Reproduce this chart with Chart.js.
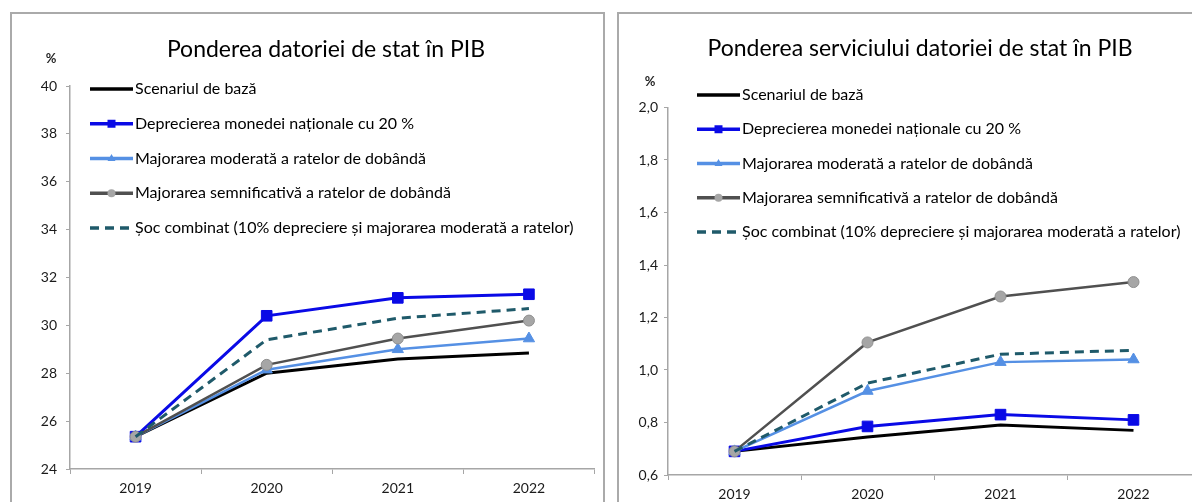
<!DOCTYPE html>
<html>
<head>
<meta charset="utf-8">
<script src="https://cdn.jsdelivr.net/npm/chart.js@4/dist/chart.umd.min.js"></script>
<style>
  html, body { margin: 0; padding: 0; background: #fff; overflow: hidden; width: 1192px; height: 502px; }
  .panel { position: absolute; top: 12px; width: 595px; height: 524px; box-sizing: border-box; border: 2px solid #aaaaaa; background: #fff; }
  #p1 { left: 10px; }
  #p2 { left: 617px; }
  canvas { display: block; }
</style>
</head>
<body>
<div class="panel" id="p1"><canvas id="debtChart" width="591" height="520"></canvas></div>
<div class="panel" id="p2"><canvas id="serviceChart" width="591" height="520"></canvas></div>
<script>
const years = ["2019", "2020", "2021", "2022"];
const seriesNames = [
  "Scenariul de bază",
  "Deprecierea monedei naționale cu 20 %",
  "Majorarea moderată a ratelor de dobândă",
  "Majorarea semnificativă a ratelor de dobândă",
  "Șoc combinat (10% depreciere și majorarea moderată a ratelor)"
];

// Ponderea datoriei de stat în PIB, %
const debtBase = [25.35, 28.0, 28.6, 28.85];
const debtDepreciation = [25.35, 30.4, 31.15, 31.3];
const debtModerate = [25.35, 28.15, 29.0, 29.45];
const debtSignificant = [25.35, 28.35, 29.45, 30.2];
const debtCombined = [25.35, 29.4, 30.3, 30.7];
const debtTicks = [24, 26, 28, 30, 32, 34, 36, 38, 40];

// Ponderea serviciului datoriei de stat în PIB, %
const serviceBase = [0.69, 0.745, 0.79, 0.77];
const serviceDepreciation = [0.69, 0.785, 0.83, 0.81];
const serviceModerate = [0.69, 0.92, 1.03, 1.04];
const serviceSignificant = [0.69, 1.105, 1.28, 1.335];
const serviceCombined = [0.69, 0.95, 1.06, 1.075];
const serviceTicks = [0.6, 0.8, 1.0, 1.2, 1.4, 1.6, 1.8, 2.0];

const FONT = "Lato, 'Noto Sans', sans-serif";

function makeDatasets(values) {
  const styles = [
    {borderColor: "#000000", borderWidth: 3, pointRadius: 0},
    {borderColor: "#0a0ae6", backgroundColor: "#0a0ae6", borderWidth: 3, pointStyle: "rect", pointRadius: 7.5},
    {borderColor: "#5590e4", backgroundColor: "#5590e4", borderWidth: 2.5, pointStyle: "triangle", pointRadius: 6.5},
    {borderColor: "#505050", backgroundColor: "#a6a6a6", pointBorderColor: "#8f8f8f", borderWidth: 2.5, pointStyle: "circle", pointRadius: 5.5},
    {borderColor: "#1f5a6a", borderWidth: 3, borderDash: [9, 6], pointRadius: 0}
  ];
  return values.map((v, i) => Object.assign({
    label: seriesNames[i], data: v, tension: 0, fill: false, order: 5 - i,
    pointHoverRadius: 0, pointBorderWidth: 1
  }, styles[i]));
}

function drawMarker(ctx, style, x, y, r) {
  ctx.beginPath();
  if (style === "rect") {
    ctx.rect(x - r, y - r, 2 * r, 2 * r);
  } else if (style === "triangle") {
    ctx.moveTo(x, y - r * 1.15);
    ctx.lineTo(x + r, y + r * 0.6);
    ctx.lineTo(x - r, y + r * 0.6);
    ctx.closePath();
  } else {
    ctx.arc(x, y, r, 0, Math.PI * 2);
  }
  ctx.fill();
}

// title, "%" label and the legend block, as in the original Excel charts
const decorPlugin = {
  id: "decor",
  afterDraw(chart, args, opts) {
    const ctx = chart.ctx;
    ctx.save();
    ctx.fillStyle = "#000";
    ctx.font = "23px " + FONT;
    ctx.textAlign = "center";
    ctx.textBaseline = "alphabetic";
    ctx.fillText(opts.title, opts.titleX, opts.titleY);
    ctx.font = "bold 13px " + FONT;
    ctx.fillStyle = "#262626";
    ctx.textBaseline = "middle";
    ctx.fillText("%", opts.pctX, opts.pctY);

    ctx.font = "16px " + FONT;
    ctx.textAlign = "left";
    chart.data.datasets.forEach((ds, i) => {
      const y = opts.legendY + i * opts.legendStep;
      const x1 = opts.legendX, x2 = opts.legendX + 43;
      ctx.strokeStyle = ds.borderColor;
      ctx.lineWidth = 3.5;
      ctx.setLineDash(ds.borderDash || []);
      ctx.beginPath();
      ctx.moveTo(x1, y);
      ctx.lineTo(x2, y);
      ctx.stroke();
      ctx.setLineDash([]);
      if (ds.pointRadius > 0) {
        ctx.fillStyle = ds.backgroundColor;
        drawMarker(ctx, ds.pointStyle, (x1 + x2) / 2, y, 4);
      }
      ctx.fillStyle = "#000";
      ctx.fillText(ds.label, x2 + 2, y);
    });
    ctx.restore();
  }
};

function makeChart(id, values, ticks, fmt, box, decor) {
  return new Chart(document.getElementById(id), {
    type: "line",
    data: {labels: years, datasets: makeDatasets(values)},
    options: {
      responsive: false, animation: false, events: [],
      layout: {padding: {left: 0, right: box.padRight, top: box.top, bottom: box.padBottom}},
      plugins: {legend: {display: false}, title: {display: false}, tooltip: {enabled: false}, decor: decor},
      scales: {
        x: {
          offset: true,
          grid: {offset: true, drawOnChartArea: false, drawTicks: true, tickLength: 5, color: "#a6a6a6"},
          border: {color: "#a6a6a6", width: 1.5},
          ticks: {color: "#1a1a1a", font: {family: FONT, size: 14}, padding: 6, maxRotation: 0},
          afterFit(scale) { scale.height = 40; }
        },
        y: {
          min: ticks[0], max: ticks[ticks.length - 1],
          afterBuildTicks(scale) { scale.ticks = ticks.map(v => ({value: v})); },
          grid: {drawOnChartArea: false, drawTicks: true, tickLength: 4, color: "#a6a6a6"},
          border: {color: "#a6a6a6", width: 1.5},
          ticks: {color: "#1a1a1a", font: {family: FONT, size: 14}, padding: box.tickPad, callback: fmt},
          afterFit(scale) { scale.width = box.left; }
        }
      }
    },
    plugins: [decorPlugin]
  });
}

makeChart("debtChart",
  [debtBase, debtDepreciation, debtModerate, debtSignificant, debtCombined],
  debtTicks, v => String(v),
  {left: 58, padRight: 5, top: 72, padBottom: 25, tickPad: 9},
  {title: "Ponderea datoriei de stat în PIB", titleX: 314, titleY: 43, pctX: 39, pctY: 45,
   legendX: 78, legendY: 75, legendStep: 34.75});

makeChart("serviceChart",
  [serviceBase, serviceDepreciation, serviceModerate, serviceSignificant, serviceCombined],
  serviceTicks, v => Number(v).toFixed(1).replace(".", ","),
  {left: 49, padRight: 10, top: 93.5, padBottom: 19, tickPad: 6},
  {title: "Ponderea serviciului datoriei de stat în PIB", titleX: 301, titleY: 42, pctX: 31, pctY: 68,
   legendX: 78, legendY: 81, legendStep: 34.25});
</script>
</body>
</html>
